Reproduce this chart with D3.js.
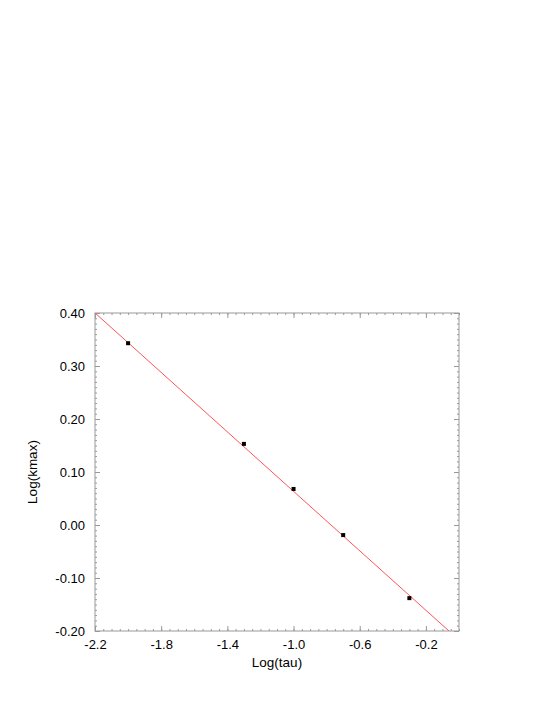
<!DOCTYPE html>
<html><head><meta charset="utf-8">
<script src="https://cdn.jsdelivr.net/npm/d3@7"></script>
<style>body{margin:0;background:#fff}svg{display:block}text{font-family:"Liberation Sans",Arial,sans-serif}</style>
</head><body>
<script>
const logTau = [-2.0, -1.3, -1.0, -0.7, -0.3];
const logKmax = [0.343, 0.153, 0.068, -0.019, -0.138];
const fitSlope = -0.2805;
const fitIntercept = -0.217;
const xTicks = [-2.2, -1.8, -1.4, -1.0, -0.6, -0.2];
const yTicks = [-0.2, -0.1, 0.0, 0.1, 0.2, 0.3, 0.4];
const xLabel = "Log(tau)", yLabel = "Log(kmax)";

const W = 554, H = 717;
const m = {l: 95, t: 313, r: 459, b: 631};
const svg = d3.select("body").append("svg").attr("width", W).attr("height", H);
const x = d3.scaleLinear().domain([-2.2, 0]).range([m.l, m.r]);
const y = d3.scaleLinear().domain([-0.2, 0.4]).range([m.b, m.t]);
const axisCol = "#999";
const fmtX = d => d3.format(".1f")(d).replace("\u2212", "-");
const fmtY = d => d3.format(".2f")(d).replace("\u2212", "-");

svg.append("defs").append("clipPath").attr("id","clip").append("rect")
  .attr("x", m.l).attr("y", m.t).attr("width", m.r-m.l).attr("height", m.b-m.t);

const xMinor = d3.range(0, 45).map(i => -2.2 + i*0.05);
const yMinor = d3.range(0, 61).map(i => -0.2 + i*0.01);

function styleAxis(g){ g.selectAll("path,line").attr("stroke", axisCol); g.select(".domain").remove(); }

// minor ticks
svg.append("g").attr("transform",`translate(0,${m.b})`).call(d3.axisTop(x).tickValues(xMinor).tickSize(2).tickFormat("")).call(styleAxis);
svg.append("g").attr("transform",`translate(0,${m.t})`).call(d3.axisBottom(x).tickValues(xMinor).tickSize(2).tickFormat("")).call(styleAxis);
svg.append("g").attr("transform",`translate(${m.l},0)`).call(d3.axisRight(y).tickValues(yMinor).tickSize(2).tickFormat("")).call(styleAxis);
svg.append("g").attr("transform",`translate(${m.r},0)`).call(d3.axisLeft(y).tickValues(yMinor).tickSize(2).tickFormat("")).call(styleAxis);
// major ticks
svg.append("g").attr("transform",`translate(0,${m.b})`).call(d3.axisTop(x).tickValues(xTicks).tickSize(5).tickFormat("")).call(styleAxis);
svg.append("g").attr("transform",`translate(0,${m.t})`).call(d3.axisBottom(x).tickValues(xTicks).tickSize(5).tickFormat("")).call(styleAxis);
svg.append("g").attr("transform",`translate(${m.l},0)`).call(d3.axisRight(y).tickValues(yTicks).tickSize(5).tickFormat("")).call(styleAxis);
svg.append("g").attr("transform",`translate(${m.r},0)`).call(d3.axisLeft(y).tickValues(yTicks).tickSize(5).tickFormat("")).call(styleAxis);

// labels
const xl = svg.append("g").attr("transform",`translate(0,${m.b})`).call(d3.axisBottom(x).tickValues(xTicks).tickSize(0).tickPadding(9).tickFormat(fmtX));
xl.select(".domain").remove();
xl.selectAll("text").attr("font-size", 13).attr("fill","#000").attr("font-family",'"Liberation Sans",Arial,sans-serif');
const yl = svg.append("g").attr("transform",`translate(${m.l},0)`).call(d3.axisLeft(y).tickValues(yTicks).tickSize(0).tickPadding(10).tickFormat(fmtY));
yl.select(".domain").remove();
yl.selectAll("text").attr("font-size", 13).attr("fill","#000").attr("font-family",'"Liberation Sans",Arial,sans-serif');

// frame
svg.append("rect").attr("x", m.l).attr("y", m.t).attr("width", m.r-m.l).attr("height", m.b-m.t)
  .attr("fill","none").attr("stroke", axisCol).attr("stroke-width",1);

// fit line
const fx = [-2.2, 0];
svg.append("line").attr("clip-path","url(#clip)")
  .attr("x1", x(fx[0])).attr("y1", y(fitIntercept + fitSlope*fx[0]))
  .attr("x2", x(fx[1])).attr("y2", y(fitIntercept + fitSlope*fx[1]))
  .attr("stroke", "#ff5555").attr("stroke-width", 1);

// points
svg.append("g").selectAll("rect").data(logTau).join("rect")
  .attr("x", (d,i) => x(d)-2).attr("y", (d,i) => y(logKmax[i])-2)
  .attr("width", 4).attr("height", 4).attr("fill", "#000");

svg.append("text").attr("x", (m.l+m.r)/2).attr("y", 667).attr("text-anchor","middle").attr("font-size",13.5).text(xLabel);
svg.append("text").attr("transform",`translate(37,${(m.t+m.b)/2}) rotate(-90)`).attr("text-anchor","middle").attr("font-size",13.5).text(yLabel);
</script>
</body></html>
